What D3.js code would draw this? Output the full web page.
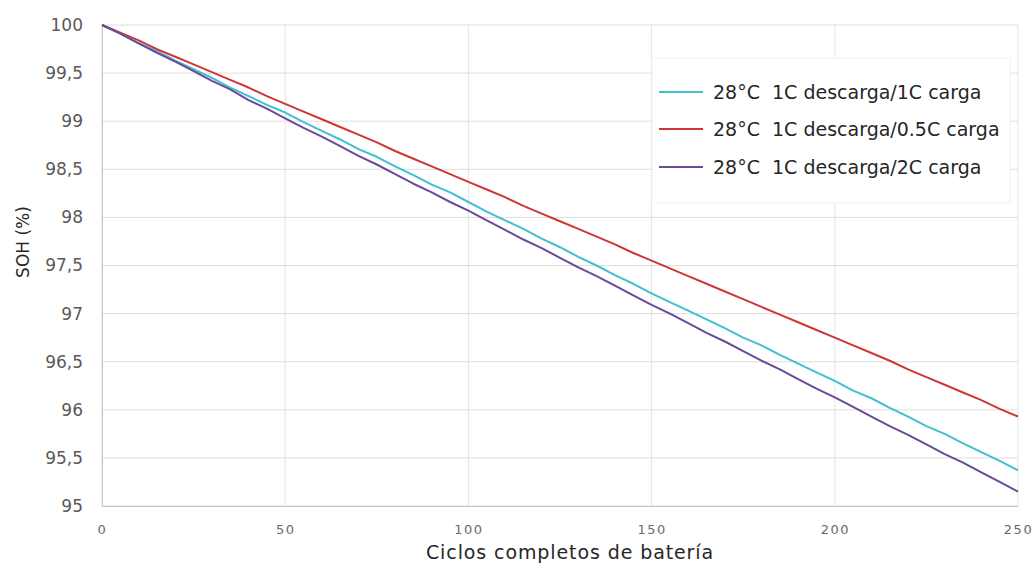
<!DOCTYPE html>
<html>
<head>
<meta charset="utf-8">
<script src="https://cdn.jsdelivr.net/npm/d3@7"></script>
<style>
  html, body { margin: 0; padding: 0; background: #fff; }
  svg { display: block; }
</style>
</head>
<body>
<svg id="chart" width="1036" height="572"></svg>
<script>
// Full charge/discharge cycles (x) and state of health (%) for each charge rate
const cycles = [0, 5, 10, 15, 20, 25, 30, 35, 40, 45, 50, 55, 60, 65, 70, 75, 80, 85, 90, 95, 100,
  105, 110, 115, 120, 125, 130, 135, 140, 145, 150, 155, 160, 165, 170, 175, 180, 185, 190, 195, 200,
  205, 210, 215, 220, 225, 230, 235, 240, 245, 250];

const soh1C = [100.00, 99.91, 99.81, 99.73, 99.63, 99.54, 99.45, 99.35, 99.26, 99.17, 99.09,
  98.99, 98.90, 98.81, 98.71, 98.63, 98.53, 98.44, 98.34, 98.26, 98.16,
  98.06, 97.97, 97.88, 97.78, 97.69, 97.59, 97.50, 97.40, 97.31, 97.21,
  97.12, 97.03, 96.94, 96.85, 96.75, 96.67, 96.57, 96.48, 96.39, 96.30,
  96.20, 96.12, 96.02, 95.93, 95.83, 95.75, 95.65, 95.56, 95.47, 95.37];

const soh05C = [100.00, 99.92, 99.84, 99.75, 99.67, 99.59, 99.51, 99.43, 99.35, 99.26, 99.18,
  99.10, 99.02, 98.94, 98.86, 98.78, 98.69, 98.61, 98.53, 98.45, 98.37,
  98.29, 98.21, 98.12, 98.04, 97.96, 97.88, 97.80, 97.72, 97.63, 97.55,
  97.47, 97.39, 97.31, 97.23, 97.15, 97.07, 96.99, 96.91, 96.83, 96.75,
  96.67, 96.59, 96.51, 96.42, 96.34, 96.26, 96.18, 96.10, 96.01, 95.93];

const soh2C = [100.00, 99.91, 99.81, 99.71, 99.62, 99.52, 99.42, 99.33, 99.22, 99.13, 99.03,
  98.93, 98.84, 98.74, 98.64, 98.55, 98.45, 98.35, 98.26, 98.16, 98.07,
  97.97, 97.87, 97.77, 97.68, 97.58, 97.48, 97.39, 97.29, 97.19, 97.09,
  97.00, 96.90, 96.80, 96.71, 96.61, 96.51, 96.42, 96.32, 96.22, 96.13,
  96.03, 95.93, 95.83, 95.74, 95.64, 95.54, 95.45, 95.35, 95.25, 95.15];

const seriesNames = ["28°C  1C descarga/1C carga", "28°C  1C descarga/0.5C carga", "28°C  1C descarga/2C carga"];
const seriesColors = ["#40c0d0", "#cf3636", "#6b4a9a"];
const seriesValues = [soh1C, soh05C, soh2C];

const xTicks = [0, 50, 100, 150, 200, 250];
const yTicks = [95, 95.5, 96, 96.5, 97, 97.5, 98, 98.5, 99, 99.5, 100];

const xTitle = "Ciclos completos de batería";
const yTitle = "SOH (%)";

const svg = d3.select("#chart");
const margin = { left: 102, right: 18, top: 25, bottom: 66 };
const W = 1036, H = 572;

const x = d3.scaleLinear().domain([0, 250]).range([margin.left, W - margin.right]);
const y = d3.scaleLinear().domain([95, 100]).range([H - margin.bottom, margin.top]);

const fmt = d => String(d).replace(".", ",");
const font = "'DejaVu Sans', Verdana, sans-serif";

// gridlines
svg.append("g")
  .selectAll("line")
  .data(yTicks)
  .join("line")
  .attr("x1", x(0)).attr("x2", x(250))
  .attr("y1", d => y(d)).attr("y2", d => y(d))
  .attr("stroke", "#dedede").attr("stroke-width", 1);

svg.append("g")
  .selectAll("line")
  .data(xTicks)
  .join("line")
  .attr("x1", d => x(d)).attr("x2", d => x(d))
  .attr("y1", y(95)).attr("y2", y(100))
  .attr("stroke", "#e4e4e4").attr("stroke-width", 1);

// axes
const xAxis = svg.append("g")
  .attr("transform", `translate(0,${y(95)})`)
  .call(d3.axisBottom(x).tickValues(xTicks).tickSize(0).tickPadding(19).tickFormat(d => d));
xAxis.select(".domain").attr("stroke", "#c6c6c6");
xAxis.selectAll("text")
  .attr("font-family", font).attr("font-size", 13)
  .attr("letter-spacing", "1.5px")
  .attr("fill", "#6a6a6a");

const yAxis = svg.append("g")
  .attr("transform", `translate(${x(0)},0)`)
  .call(d3.axisLeft(y).tickValues(yTicks).tickSize(0).tickPadding(19).tickFormat(fmt));
yAxis.select(".domain").attr("stroke", "#c6c6c6");
yAxis.selectAll("text").attr("font-family", font).attr("font-size", 17).attr("fill", "#5a5a5a");

// series lines
const line = d3.line()
  .x((d, i) => x(cycles[i]))
  .y(d => y(d));

seriesValues.forEach((vals, k) => {
  svg.append("path")
    .datum(vals)
    .attr("d", line)
    .attr("fill", "none")
    .attr("stroke", seriesColors[k])
    .attr("stroke-width", 2)
    .attr("stroke-linejoin", "round");
});

// legend box (white, covers gridlines behind it)
const lg = svg.append("g");
lg.append("rect")
  .attr("x", 652).attr("y", 58)
  .attr("width", 358).attr("height", 145)
  .attr("fill", "#fff")
  .attr("stroke", "#f0f0f0").attr("stroke-width", 1);

const legendRows = [92, 129, 167];
seriesNames.forEach((name, k) => {
  lg.append("line")
    .attr("x1", 659).attr("x2", 703)
    .attr("y1", legendRows[k]).attr("y2", legendRows[k])
    .attr("stroke", seriesColors[k]).attr("stroke-width", 2);
  lg.append("text")
    .attr("x", 713).attr("y", legendRows[k])
    .attr("dy", "0.35em")
    .attr("font-family", font).attr("font-size", 19)
    .attr("fill", "#262626")
    .style("white-space", "pre")
    .text(name);
});

// axis titles
svg.append("text")
  .attr("x", 570).attr("y", 559)
  .attr("text-anchor", "middle")
  .attr("font-family", font).attr("font-size", 19)
  .attr("letter-spacing", "0.9px")
  .attr("fill", "#262626")
  .text(xTitle);

svg.append("text")
  .attr("transform", `translate(29,242) rotate(-90)`)
  .attr("text-anchor", "middle")
  .attr("font-family", font).attr("font-size", 17)
  .attr("fill", "#262626")
  .text(yTitle);
</script>
</body>
</html>
